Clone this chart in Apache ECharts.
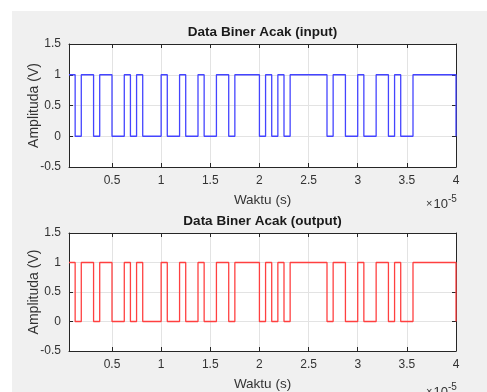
<!DOCTYPE html>
<html>
<head>
<meta charset="utf-8">
<script src="https://cdn.jsdelivr.net/npm/echarts@6/dist/echarts.min.js"></script>
<style>
html, body { margin: 0; padding: 0; background: #fff; }
.wrap { position: relative; width: 487px; height: 392px; overflow: hidden; }
.fig { position: absolute; left: 12px; top: 11px; right: 0; bottom: 0; background: #f0f0f0; }
#chart { position: absolute; left: 0; top: 0; width: 487px; height: 392px; }
</style>
</head>
<body>
<div class="wrap">
  <div class="fig"></div>
  <div id="chart"></div>
</div>
<script>
// bit period in units of 1e-5 s (64 samples from Tb to 64*Tb)
const bitPeriod = 0.0625
// level of each bit (last sample drops back to 0)
const bitsInput = [
  1, 0, 1, 1, 0, 1, 1, 0, 0, 1,
  0, 1, 0, 0, 0, 1, 0, 0, 1, 0,
  0, 1, 0, 0, 1, 1, 0, 1, 1, 1,
  1, 0, 1, 0, 1, 0, 1, 1, 1, 1,
  1, 1, 0, 1, 1, 0, 0, 1, 0, 0,
  1, 1, 0, 1, 0, 0, 1, 1, 1, 1,
  1, 1, 1, 0
]
const bitsOutput = [
  1, 0, 1, 1, 0, 1, 1, 0, 0, 1,
  0, 1, 0, 0, 0, 1, 0, 0, 1, 0,
  0, 1, 0, 0, 1, 1, 0, 1, 1, 1,
  1, 0, 1, 0, 1, 0, 1, 1, 1, 1,
  1, 1, 0, 1, 1, 0, 0, 1, 0, 0,
  1, 1, 0, 1, 0, 0, 1, 1, 1, 1,
  1, 1, 1, 0
]
const xTicks = [0.5, 1, 1.5, 2, 2.5, 3, 3.5, 4]
const titles = ['Data Biner Acak (input)', 'Data Biner Acak (output)']

const axisColor = '#262626'
const gridColor = '#e3e3e3'
const font = 'Liberation Sans, Arial, Helvetica, sans-serif'

const toPoints = bits => bits.map((b, i) => [(i + 1) * bitPeriod, b])

const grids = [
  { left: 69, top: 44, width: 387, height: 123 },
  { left: 69, top: 233, width: 387, height: 122 }
]

const xAxis = []
const yAxis = []
grids.forEach((g, gi) => {
  xAxis.push({
    gridIndex: gi,
    type: 'value',
    min: bitPeriod,
    max: 4,
    name: 'Waktu (s)',
    nameLocation: 'middle',
    nameGap: 26,
    nameMoveOverlap: false,
    nameTextStyle: { color: '#333', fontSize: 13.5, fontFamily: font },
    axisLine: { show: true, onZero: false, lineStyle: { color: axisColor, width: 1 } },
    axisTick: { show: true, inside: true, length: 4, customValues: xTicks, lineStyle: { color: axisColor } },
    axisLabel: { customValues: xTicks, color: '#333', fontSize: 12, fontFamily: font, margin: 8 },
    splitLine: { show: true, lineStyle: { color: gridColor, width: 1 } }
  })
  xAxis.push({
    gridIndex: gi,
    type: 'value',
    position: 'top',
    min: bitPeriod,
    max: 4,
    axisLine: { show: true, onZero: false, lineStyle: { color: axisColor, width: 1 } },
    axisTick: { show: true, inside: true, length: 4, customValues: xTicks, lineStyle: { color: axisColor } },
    axisLabel: { show: false },
    splitLine: { show: false }
  })
  yAxis.push({
    gridIndex: gi,
    type: 'value',
    min: -0.5,
    max: 1.5,
    interval: 0.5,
    name: 'Amplituda (V)',
    nameLocation: 'middle',
    nameGap: 28,
    nameMoveOverlap: false,
    nameTextStyle: { color: '#333', fontSize: 14, fontFamily: font },
    axisLine: { show: true, onZero: false, lineStyle: { color: axisColor, width: 1 } },
    axisTick: { show: true, inside: true, length: 4, lineStyle: { color: axisColor } },
    axisLabel: { color: '#333', fontSize: 12, fontFamily: font, margin: 8 },
    splitLine: { show: true, lineStyle: { color: gridColor, width: 1 } }
  })
  yAxis.push({
    gridIndex: gi,
    type: 'value',
    position: 'right',
    min: -0.5,
    max: 1.5,
    interval: 0.5,
    axisLine: { show: true, onZero: false, lineStyle: { color: axisColor, width: 1 } },
    axisTick: { show: true, inside: true, length: 4, lineStyle: { color: axisColor } },
    axisLabel: { show: false },
    splitLine: { show: false }
  })
})

const expLabel = top => ({
  type: 'text',
  left: 426,
  top: top,
  style: {
    text: '{x|×}{b|10}{e|-5}',
    rich: {
      x: { fontSize: 11, fontFamily: font, fill: '#333', padding: [4, 1, 0, 0] },
      b: { fontSize: 13, fontFamily: font, fill: '#333', padding: [4, 0, 0, 0] },
      e: { fontSize: 10, fontFamily: font, fill: '#333', padding: [0, 0, 6, 0] }
    }
  }
})

const chart = echarts.init(document.getElementById('chart'))
chart.setOption({
  animation: false,
  backgroundColor: 'transparent',
  title: grids.map((g, gi) => ({
    text: titles[gi],
    left: g.left + g.width / 2,
    textAlign: 'center',
    top: g.top - 19,
    padding: 0,
    textStyle: { color: '#1a1a1a', fontSize: 13.5, fontWeight: 'bold', fontFamily: font }
  })),
  grid: grids.map(g => ({ ...g, show: true, backgroundColor: '#fff', borderWidth: 0 })),
  xAxis,
  yAxis,
  series: [
    {
      type: 'line',
      step: 'end',
      xAxisIndex: 0,
      yAxisIndex: 0,
      showSymbol: false,
      lineStyle: { color: '#4444ff', width: 1.3 },
      data: toPoints(bitsInput)
    },
    {
      type: 'line',
      step: 'end',
      xAxisIndex: 2,
      yAxisIndex: 2,
      showSymbol: false,
      lineStyle: { color: '#ff4040', width: 1.3 },
      data: toPoints(bitsOutput)
    }
  ],
  graphic: [expLabel(194), expLabel(382)]
})
</script>
</body>
</html>
